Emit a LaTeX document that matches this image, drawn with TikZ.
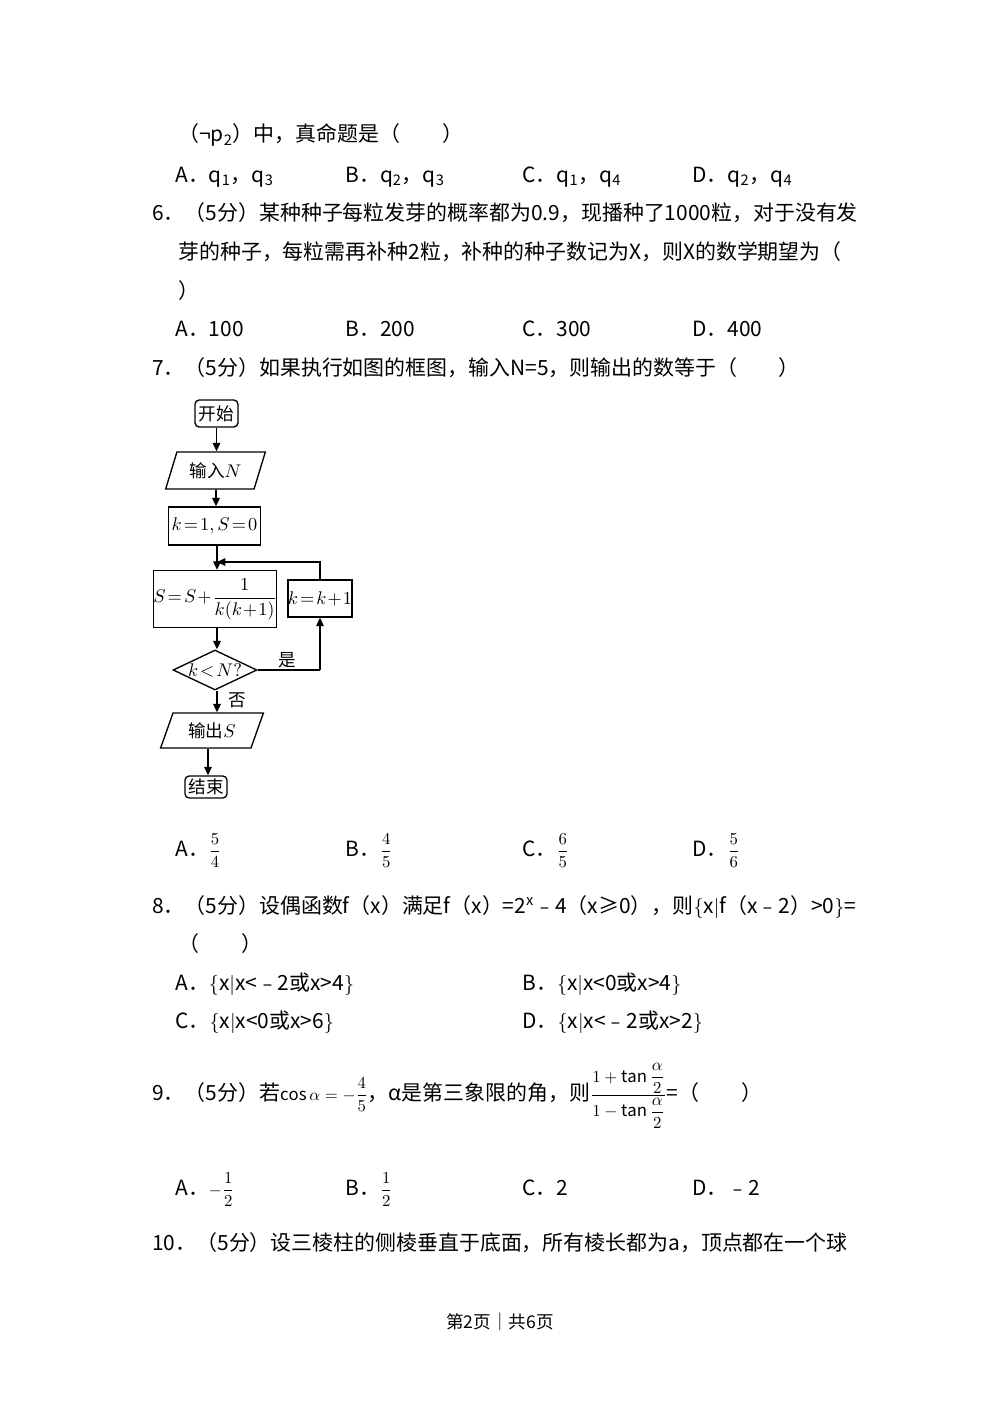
\documentclass[tikz,border=0pt]{standalone}
\usepackage{amsmath}
\usepackage{fontspec}
\setmainfont{Noto Sans CJK SC}
\usetikzlibrary{shapes.geometric,arrows.meta}
\newcommand{\ofrac}[2]{{\fontsize{10}{12}\selectfont$\dfrac{#1}{#2}$}}
\tikzset{
 txt/.style={anchor=base west,inner sep=0pt,font=\fontsize{12.5}{15}\selectfont},
 fc/.style={draw,thick,inner sep=0pt,font=\fontsize{10.5}{12}\selectfont},
 box/.style={fc,rectangle},
 term/.style={fc,rectangle,rounded corners=2.5pt},
 para/.style={fc,trapezium,trapezium left angle=65,trapezium right angle=115,trapezium stretches=true},
 dia/.style={fc,diamond,aspect=2.1},
 arr/.style={thick,-{Triangle[length=5pt,width=4.5pt]}},
 ln/.style={thick}
}
\begin{document}
\begin{tikzpicture}[x=0.021cm,y=-0.021cm]
\useasboundingbox (0,0) rectangle (1000,1416);
% top lines
\node[txt] (l0) at (178,142) {（¬p\textsubscript{2}）中，真命题是（\quad\quad）};
\node[txt] (o1a) at (175,182) {A．q\textsubscript{1}，q\textsubscript{3}};
\node[txt] (o1b) at (345,182) {B．q\textsubscript{2}，q\textsubscript{3}};
\node[txt] (o1c) at (522,182) {C．q\textsubscript{1}，q\textsubscript{4}};
\node[txt] (o1d) at (692,182) {D．q\textsubscript{2}，q\textsubscript{4}};
% Q6
\node[txt] (q6a) at (152,220) {6．（5分）某种种子每粒发芽的概率都为0.9，现播种了1000粒，对于没有发};
\node[txt] (q6b) at (178,259) {芽的种子，每粒需再补种2粒，补种的种子数记为X，则X的数学期望为（};
\node[txt] (q6c) at (178,298) {）};
\node[txt] (o6a) at (175,336) {A．100};
\node[txt] (o6b) at (345,336) {B．200};
\node[txt] (o6c) at (522,336) {C．300};
\node[txt] (o6d) at (692,336) {D．400};
% Q7
\node[txt] (q7) at (152,375) {7．（5分）如果执行如图的框图，输入N=5，则输出的数等于（\quad\quad）};
% flowchart
\node[term,minimum width=43*0.021cm,minimum height=27*0.021cm] (st) at (216.5,413.5) {开始};
\node[para,minimum width=100*0.021cm,minimum height=37*0.021cm] (in) at (215.5,470.5) {输入$N$};
\node[box,minimum width=92*0.021cm,minimum height=38*0.021cm] (init) at (214.5,526) {$k\!=\!1,S\!=\!0$};
\node[box,minimum width=104*0.021cm,minimum height=57*0.021cm] (sum) at (215,599) {$S\!=\!S\!+\!\dfrac{1}{k(k\!+\!1)}$};
\node[box,minimum width=64*0.021cm,minimum height=37*0.021cm] (inc) at (320,598.5) {$k\!=\!k\!+\!1$};
\node[dia,minimum width=84*0.021cm,minimum height=40*0.021cm] (cond) at (215,670) {$k\!<\!N?$};
\node[para,minimum width=103*0.021cm,minimum height=35*0.021cm] (out) at (212,730.5) {输出$S$};
\node[term,minimum width=42*0.021cm,minimum height=22*0.021cm] (en) at (206,787) {结束};
\coordinate (j) at (217,562);
\coordinate (c1) at (320,670);
\draw[arr] (st.south -| 216.5,0) -- (in.north -| 216.5,0);
\draw[arr] (in.south -| 216,0) -- (init.north -| 216,0);
\draw[arr] (init.south -| 217,0) -- (sum.north -| 217,0);
\draw[arr] (sum.south -| 217,0) -- (cond.north -| 217,0);
\draw[arr] (c1) -- (inc.south);
\draw[ln] (cond.east) -- (c1);
\draw[arr] (inc.north) |- (j);
\draw[arr] (cond.south -| 217,0) -- (out.north -| 217,0);
\draw[arr] (out.south -| 208,0) -- (en.north -| 208,0);
\node[font=\fontsize{10.5}{12}\selectfont,inner sep=0] (yes) at (287,660) {是};
\node[font=\fontsize{10.5}{12}\selectfont,inner sep=0] (no) at (237,700) {否};
% options 7
\node[txt] (o7a) at (175,856) {A．\ofrac{5}{4}};
\node[txt] (o7b) at (345,856) {B．\ofrac{4}{5}};
\node[txt] (o7c) at (522,856) {C．\ofrac{6}{5}};
\node[txt] (o7d) at (692,856) {D．\ofrac{5}{6}};
% Q8
\node[txt] (q8a) at (152,913) {8．（5分）设偶函数f（x）满足f（x）=2\textsuperscript{x}﹣4（x≥0），则$\{$x$|$f（x﹣2）>0$\}$=};
\node[txt] (q8b) at (178,951) {（\quad\quad）};
\node[txt] (o8a) at (175,990) {A．$\{$x$|$x<﹣2或x>4$\}$};
\node[txt] (o8b) at (522,990) {B．$\{$x$|$x<0或x>4$\}$};
\node[txt] (o8c) at (175,1028) {C．$\{$x$|$x<0或x>6$\}$};
\node[txt] (o8d) at (522,1028) {D．$\{$x$|$x<﹣2或x>2$\}$};
% Q9
\node[txt] (q9) at (152,1100) {9．（5分）若{\fontsize{10}{12}\selectfont$\mathrm{cos}\,\alpha=-\dfrac{4}{5}$}，α是第三象限的角，则{\fontsize{10}{12}\selectfont$\dfrac{1+\tan\dfrac{\alpha}{2}}{1-\tan\dfrac{\alpha}{2}}$}=（\quad\quad）};
\node[txt] (o9a) at (175,1195) {A．{\fontsize{10}{12}\selectfont$-\dfrac{1}{2}$}};
\node[txt] (o9b) at (345,1195) {B．\ofrac{1}{2}};
\node[txt] (o9c) at (522,1195) {C．2};
\node[txt] (o9d) at (692,1195) {D．﹣2};
% Q10
\node[txt] (q10) at (152,1250) {10．（5分）设三棱柱的侧棱垂直于底面，所有棱长都为a，顶点都在一个球};
\node[font=\fontsize{10.5}{12}\selectfont,inner sep=0] (ft) at (500,1322) {第2页｜共6页};
\end{tikzpicture}
\end{document}
